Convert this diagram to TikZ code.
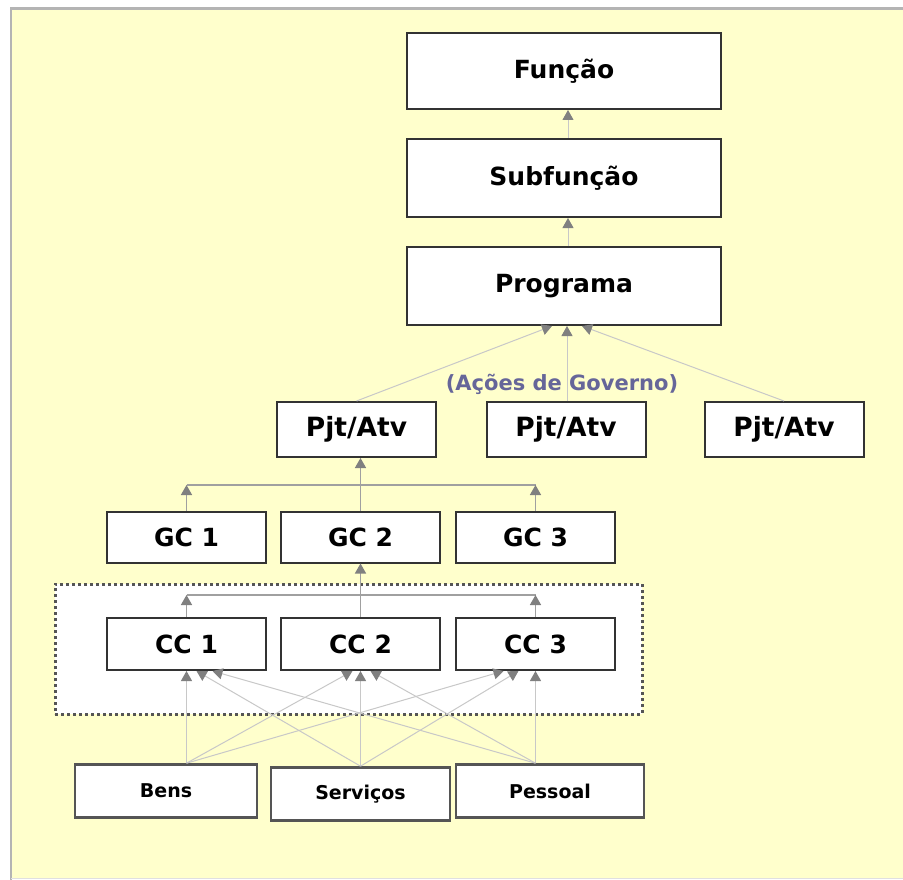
\documentclass[tikz,border=0pt]{standalone}
\usepackage{fontspec}
\setmainfont{DejaVu Sans}
\usetikzlibrary{arrows.meta}

\definecolor{bgyellow}{RGB}{255,255,204}
\definecolor{framegray}{RGB}{180,180,180}
\definecolor{boxline}{RGB}{51,51,51}
\definecolor{boxlinesoft}{RGB}{85,85,85}
\definecolor{linkgray}{RGB}{160,160,160}
\definecolor{linklight}{RGB}{200,200,200}
\definecolor{tipgray}{RGB}{128,128,128}
\definecolor{govtext}{RGB}{102,102,153}

\tikzset{
  bigfont/.style={font=\fontsize{25}{30}\selectfont\bfseries},
  smallfont/.style={font=\fontsize{19}{23}\selectfont\bfseries},
  levelbox/.style={draw=boxline, line width=2pt, fill=white, inner sep=0pt,
    minimum width=314pt, minimum height=78pt, bigfont},
  actionbox/.style={draw=boxline, line width=2pt, fill=white, inner sep=0pt,
    minimum width=159pt, minimum height=55pt, font=\fontsize{26.5}{30}\selectfont\bfseries},
  costbox/.style={draw=boxline, line width=2pt, fill=white, inner sep=0pt,
    minimum width=159pt, minimum height=51pt, bigfont},
  itembox/.style={draw=boxlinesoft, line width=2.6pt, fill=white, inner sep=0pt,
    minimum height=53pt, smallfont},
  groupbox/.style={draw=boxlinesoft, line width=3pt, dash pattern=on 3pt off 3pt,
    fill=white, inner sep=0pt},
  link/.style={draw=linkgray, line width=1.5pt},
  faint/.style={draw=linklight, line width=1pt},
  tip/.style={-{Triangle[width=11pt,length=10pt,color=tipgray]}},
}

\begin{document}
\begin{tikzpicture}[x=1pt,y=-1pt]
\useasboundingbox (0,0) rectangle (903,880);

% sheet with a grey frame on the top and left edges
\fill[white] (0,0) rectangle (903,880);
\fill[bgyellow] (11,9) rectangle (903,878);
\draw[framegray, line width=2.5pt] (11,880) -- (11,8.5) -- (903,8.5);
\draw[black!12, line width=0.8pt] (11,878.6) -- (903,878.6);

% hierarchy of the budget classification
\node[levelbox, minimum height=76pt] (fun) at (564,71) {Função};
\node[levelbox] (sub) at (564,178) {Subfunção};
\node[levelbox] (prog) at (564,286) {Programa};

\node[actionbox] (pa1) at (356.5,429.5) {Pjt/Atv};
\node[actionbox] (pa2) at (566,429.5) {Pjt/Atv};
\node[actionbox] (pa3) at (784,429.5) {Pjt/Atv};

\node[costbox] (gc1) at (186.5,537) {GC 1};
\node[costbox] (gc2) at (360.5,537) {GC 2};
\node[costbox] (gc3) at (535.5,537) {GC 3};

% dotted group around the cost centres
\node[groupbox, minimum width=587pt, minimum height=130pt] (ccgroup) at (348.5,649) {};

\node[costbox, minimum height=52pt] (cc1) at (186.5,644) {CC 1};
\node[costbox, minimum height=52pt] (cc2) at (360.5,644) {CC 2};
\node[costbox, minimum height=52pt] (cc3) at (535.5,644) {CC 3};

\node[itembox, minimum width=182pt] (bens) at (166,791) {Bens};
\node[itembox, minimum width=179pt] (serv) at (360.5,794) {Serviços};
\node[itembox, minimum width=188pt] (pess) at (550,791) {Pessoal};

% upper chain
\draw[faint, tip] ([xshift=4pt]sub.north) -- ([xshift=4pt]fun.south);
\draw[faint, tip] ([xshift=4pt]prog.north) -- ([xshift=4pt]sub.south);

% government actions feeding the programme
\draw[faint, tip] (pa1.north) -- ([xshift=-12pt]prog.south);
\draw[faint, tip] ([xshift=1pt]pa2.north) -- ([xshift=3pt]prog.south);
\draw[faint, tip] (pa3.north) -- ([xshift=18pt]prog.south);
\node[font=\fontsize{21}{25}\selectfont\bfseries, text=govtext] (acoes) at (562,384) {(Ações de Governo)};

% cost groups to the first action
\coordinate (gcbus) at (0,485);
\draw[link] (gc1.north |- gcbus) -- (gc3.north |- gcbus);
\draw[link, tip] (gc1.north) -- (gc1.north |- gcbus);
\draw[link, tip] (gc3.north) -- (gc3.north |- gcbus);
\draw[link, tip] (gc2.north) -- (gc2.north |- pa1.south);

% cost centres to the second cost group
\coordinate (ccbus) at (0,595);
\draw[link] (cc1.north |- ccbus) -- (cc3.north |- ccbus);
\draw[link, tip] (cc1.north) -- (cc1.north |- ccbus);
\draw[link, tip] (cc3.north) -- (cc3.north |- ccbus);
\draw[link, tip] (cc2.north) -- (cc2.north |- gc2.south);

% resources distributed over the cost centres
\coordinate (bensT) at (bens.north -| cc1.south);
\coordinate (servT) at (serv.north -| cc2.south);
\coordinate (pessT) at (pess.north -| cc3.south);

\draw[faint, tip] (servT) -- ([xshift=10pt]cc1.south);
\draw[faint, tip] (pessT) -- ([xshift=26pt]cc1.south);
\draw[faint, tip] (bensT) -- ([xshift=-8pt]cc2.south);
\draw[faint, tip] (pessT) -- ([xshift=10pt]cc2.south);
\draw[faint, tip] (bensT) -- ([xshift=-32pt]cc3.south);
\draw[faint, tip] (servT) -- ([xshift=-17pt]cc3.south);

\draw[faint, tip] (bensT) -- (cc1.south);
\draw[faint, tip] (servT) -- (cc2.south);
\draw[faint, tip] (pessT) -- (cc3.south);
\end{tikzpicture}
\end{document}
